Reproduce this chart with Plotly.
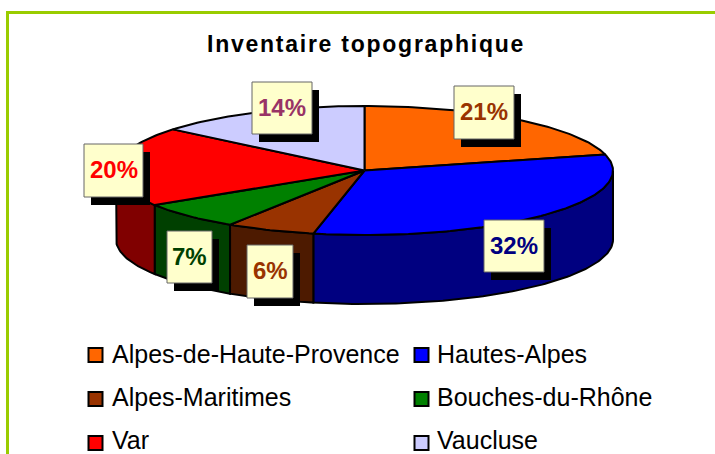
import math
import plotly.graph_objects as go

categories = ["Alpes-de-Haute-Provence", "Hautes-Alpes", "Alpes-Maritimes",
              "Bouches-du-Rhône", "Var", "Vaucluse"]
values = [21.0, 32.3, 5.8, 6.9, 20.0, 14.0]
top_colors = ["#FF6600", "#0000FF", "#993300", "#008000", "#FF0000", "#CCCCFF"]
side_colors = ["#803300", "#000080", "#4D1A00", "#004000", "#800000", "#666680"]
label_colors = ["#993300", "#000080", "#993300", "#004000", "#FF0000", "#993366"]

CX, CY, RX, RY, DEPTH = 364.5, 170.5, 248.5, 64.5, 69
FONT = "Liberation Sans, Arial, sans-serif"


def pt(deg, dy=0):
    r = math.radians(deg)
    return CX + RX * math.sin(r), CY - RY * math.cos(r) + dy


def arc(a0, a1, dy=0):
    n = max(2, int(abs(a1 - a0)) + 1)
    pts = [pt(a0 + (a1 - a0) * i / (n - 1), dy) for i in range(n)]
    return [p[0] for p in pts], [p[1] for p in pts]


fig = go.Figure()
total = sum(values)
angles = [0]
for v in values:
    angles.append(angles[-1] + v / total * 360)

# Side walls (only the front half of the ellipse is visible)
for i, name in enumerate(categories):
    a0, a1 = max(angles[i], 90), min(angles[i + 1], 270)
    if a1 <= a0:
        continue
    xt, yt = arc(a0, a1)
    xb, yb = arc(a1, a0, DEPTH)
    fig.add_trace(go.Scatter(x=xt + xb + xt[:1], y=yt + yb + yt[:1], mode="lines",
                             fill="toself", fillcolor=side_colors[i],
                             line=dict(color="black", width=2), name=name,
                             showlegend=False, hoverinfo="skip"))

# Top face
for i, name in enumerate(categories):
    xa, ya = arc(angles[i], angles[i + 1])
    fig.add_trace(go.Scatter(x=[CX] + xa + [CX], y=[CY] + ya + [CY], mode="lines",
                             fill="toself", fillcolor=top_colors[i],
                             line=dict(color="black", width=2), name=name,
                             showlegend=False, hoverinfo="name"))

# Data label boxes: left, top (pixels), in category order
box_pos = [(454, 86), (484, 220), (247, 245), (167, 231), (84, 144), (252, 82)]
box_size = [(60, 53), (60, 52), (46, 53), (45, 52), (59, 53), (60, 52)]
shapes = []
annotations = []
for i, v in enumerate(values):
    (x, y), (w, h) = box_pos[i], box_size[i]
    shapes.append(dict(type="rect", x0=x + 7, x1=x + w + 7, y0=y + 8, y1=y + h + 8,
                       fillcolor="black", line=dict(width=0), layer="above"))
    shapes.append(dict(type="rect", x0=x, x1=x + w, y0=y, y1=y + h,
                       fillcolor="#FFFFCC", line=dict(color="#666666", width=1), layer="above"))
    annotations.append(dict(x=x + w / 2, y=y + h / 2 - 1, text=f"<b>{round(v)}%</b>", showarrow=False,
                            font=dict(family=FONT, size=24, color=label_colors[i])))

# Legend
leg_x = [(88, 110), (414, 435)]
leg_y = [355, 399, 443]
leg_text_y = [353.5, 396.5, 439.5]
for i, name in enumerate(categories):
    mx, tx = leg_x[i % 2]
    my = leg_y[i // 2]
    fig.add_trace(go.Scatter(x=[mx + 7.5], y=[my], mode="markers", showlegend=False, hoverinfo="skip",
                             marker=dict(symbol="square", size=14, color=top_colors[i],
                                         line=dict(color="black", width=2))))
    annotations.append(dict(x=tx, y=leg_text_y[i // 2], text=name, showarrow=False, xanchor="left",
                            font=dict(family=FONT, size=25, color="black")))

annotations.append(dict(x=366, y=44, text="<b>Inventaire topographique</b>", showarrow=False,
                        font=dict(family=FONT, size=23, color="black")))

# Frame
shapes.append(dict(type="line", x0=6, x1=715, y0=12.5, y1=12.5, line=dict(color="#99CC00", width=3), layer="above"))
shapes.append(dict(type="line", x0=7.5, x1=7.5, y0=11, y1=454, line=dict(color="#99CC00", width=3), layer="above"))

fig.update_layout(width=715, height=454, margin=dict(l=0, r=0, t=0, b=0),
                  paper_bgcolor="white", plot_bgcolor="white",
                  xaxis=dict(range=[0, 715], visible=False, fixedrange=True),
                  yaxis=dict(range=[454, 0], visible=False, fixedrange=True),
                  shapes=shapes, annotations=annotations, showlegend=False)

post = """
document.body.style.margin = '0';
document.body.style.overflow = 'hidden';
document.querySelectorAll('.annotation-text').forEach(function (t) {
  if (t.textContent.indexOf('Inventaire') === 0) { t.style.letterSpacing = '1.75px'; }
});
"""
fig.write_html("out.html", config={"displayModeBar": False}, post_script=post)
